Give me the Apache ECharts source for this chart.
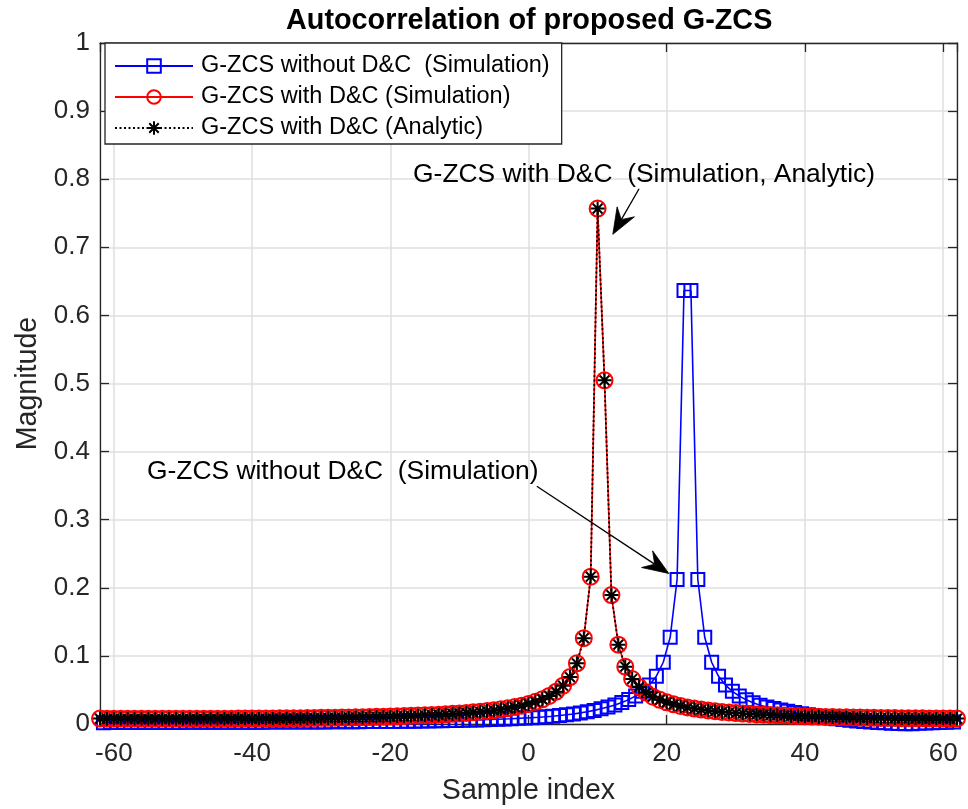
<!DOCTYPE html>
<html>
<head>
<meta charset="utf-8">
<script src="https://cdn.jsdelivr.net/npm/echarts@6/dist/echarts.min.js"></script>
<style>
  html, body { margin: 0; padding: 0; background: #ffffff; }
  #chart { width: 968px; height: 809px; }
</style>
</head>
<body>
<div id="chart"></div>
<script>
// Sample positions of the G-ZCS with D&C sequence (integer lags)
const sampleIndex = [
  -62, -61, -60, -59, -58, -57, -56, -55, -54, -53, -52, -51, -50, -49, -48, -47,
  -46, -45, -44, -43, -42, -41, -40, -39, -38, -37, -36, -35, -34, -33, -32, -31,
  -30, -29, -28, -27, -26, -25, -24, -23, -22, -21, -20, -19, -18, -17, -16, -15,
  -14, -13, -12, -11, -10, -9, -8, -7, -6, -5, -4, -3, -2, -1,
  0, 1, 2, 3, 4, 5, 6, 7, 8, 9, 10, 11, 12, 13, 14, 15,
  16, 17, 18, 19, 20, 21, 22, 23, 24, 25, 26, 27, 28, 29, 30, 31,
  32, 33, 34, 35, 36, 37, 38, 39, 40, 41, 42, 43, 44, 45, 46, 47,
  48, 49, 50, 51, 52, 53, 54, 55, 56, 57, 58, 59, 60, 61, 62
];

// Sample positions of the G-ZCS without D&C sequence (half-sample lags)
const halfSampleIndex = [
  -61.5, -60.5, -59.5, -58.5, -57.5, -56.5, -55.5, -54.5, -53.5, -52.5, -51.5, -50.5,
  -49.5, -48.5, -47.5, -46.5, -45.5, -44.5, -43.5, -42.5, -41.5, -40.5, -39.5, -38.5,
  -37.5, -36.5, -35.5, -34.5, -33.5, -32.5, -31.5, -30.5, -29.5, -28.5, -27.5, -26.5,
  -25.5, -24.5, -23.5, -22.5, -21.5, -20.5, -19.5, -18.5, -17.5, -16.5, -15.5, -14.5,
  -13.5, -12.5, -11.5, -10.5, -9.5, -8.5, -7.5, -6.5, -5.5, -4.5, -3.5, -2.5, -1.5, -0.5,
  0.5, 1.5, 2.5, 3.5, 4.5, 5.5, 6.5, 7.5, 8.5, 9.5, 10.5, 11.5, 12.5, 13.5, 14.5, 15.5,
  16.5, 17.5, 18.5, 19.5, 20.5, 21.5, 22.5, 23.5, 24.5, 25.5, 26.5, 27.5, 28.5, 29.5,
  30.5, 31.5, 32.5, 33.5, 34.5, 35.5, 36.5, 37.5, 38.5, 39.5, 40.5, 41.5, 42.5, 43.5,
  44.5, 45.5, 46.5, 47.5, 48.5, 49.5, 50.5, 51.5, 52.5, 53.5, 54.5, 55.5, 56.5, 57.5,
  58.5, 59.5, 60.5, 61.5
];

// Autocorrelation magnitude, G-ZCS without D&C (simulation)
const withoutDCSim = [
  0.0020, 0.0021, 0.0021, 0.0021, 0.0021, 0.0022, 0.0022, 0.0022, 0.0022, 0.0023, 0.0023, 0.0023,
  0.0024, 0.0024, 0.0024, 0.0025, 0.0025, 0.0025, 0.0026, 0.0026, 0.0026, 0.0027, 0.0027, 0.0027,
  0.0028, 0.0028, 0.0028, 0.0029, 0.0029, 0.0030, 0.0030, 0.0031, 0.0031, 0.0032, 0.0032, 0.0033,
  0.0033, 0.0034, 0.0035, 0.0035, 0.0036, 0.0037, 0.0038, 0.0039, 0.0040, 0.0041, 0.0043, 0.0044,
  0.0046, 0.0048, 0.0050, 0.0052, 0.0055, 0.0057, 0.0060, 0.0063, 0.0066, 0.0070, 0.0074, 0.0078, 0.0083, 0.0088,
  0.0093, 0.0099, 0.0106, 0.0114, 0.0124, 0.0135, 0.0148, 0.0163, 0.0180, 0.0200, 0.0223, 0.0249, 0.0279, 0.0315, 0.0358, 0.0412,
  0.0480, 0.0572, 0.0702, 0.0907, 0.1273, 0.2122, 0.6366, 0.6366, 0.2122, 0.1273, 0.0907, 0.0700, 0.0572, 0.0480,
  0.0410, 0.0355, 0.0312, 0.0276, 0.0250, 0.0228, 0.0207, 0.0188, 0.0170, 0.0152, 0.0135, 0.0119, 0.0104, 0.0090,
  0.0077, 0.0065, 0.0054, 0.0045, 0.0037, 0.0030, 0.0023, 0.0017, 0.0011, 0.0006, 0.0002, 0.0005, 0.0010, 0.0014,
  0.0018, 0.0022, 0.0025, 0.0028
];

// Autocorrelation magnitude, G-ZCS with D&C (simulation)
const withDCSim = [
  0.0079, 0.0078, 0.0078, 0.0077, 0.0077, 0.0077, 0.0076, 0.0076, 0.0076, 0.0076, 0.0076, 0.0076, 0.0076, 0.0076, 0.0076, 0.0077,
  0.0077, 0.0077, 0.0078, 0.0078, 0.0079, 0.0079, 0.0080, 0.0080, 0.0081, 0.0082, 0.0083, 0.0084, 0.0085, 0.0086, 0.0087, 0.0088,
  0.0090, 0.0091, 0.0093, 0.0094, 0.0096, 0.0098, 0.0100, 0.0102, 0.0105, 0.0107, 0.0110, 0.0113, 0.0116, 0.0120, 0.0124, 0.0128,
  0.0132, 0.0137, 0.0143, 0.0149, 0.0155, 0.0162, 0.0171, 0.0180, 0.0190, 0.0202, 0.0215, 0.0230, 0.0248, 0.0269,
  0.0295, 0.0325, 0.0363, 0.0412, 0.0475, 0.0562, 0.0689, 0.0891, 0.1261, 0.2163, 0.7568, 0.5046, 0.1893, 0.1165, 0.0842, 0.0660,
  0.0542, 0.0461, 0.0401, 0.0355, 0.0318, 0.0289, 0.0265, 0.0244, 0.0227, 0.0212, 0.0199, 0.0188, 0.0178, 0.0169, 0.0161, 0.0154,
  0.0147, 0.0141, 0.0136, 0.0131, 0.0127, 0.0123, 0.0119, 0.0116, 0.0112, 0.0109, 0.0107, 0.0104, 0.0102, 0.0100, 0.0098, 0.0096,
  0.0094, 0.0092, 0.0091, 0.0089, 0.0088, 0.0087, 0.0086, 0.0085, 0.0084, 0.0083, 0.0082, 0.0081, 0.0080, 0.0080, 0.0079
];

// Autocorrelation magnitude, G-ZCS with D&C (analytic) - coincides with the simulation
const withDCAnalytic = [
  0.0079, 0.0078, 0.0078, 0.0077, 0.0077, 0.0077, 0.0076, 0.0076, 0.0076, 0.0076, 0.0076, 0.0076, 0.0076, 0.0076, 0.0076, 0.0077,
  0.0077, 0.0077, 0.0078, 0.0078, 0.0079, 0.0079, 0.0080, 0.0080, 0.0081, 0.0082, 0.0083, 0.0084, 0.0085, 0.0086, 0.0087, 0.0088,
  0.0090, 0.0091, 0.0093, 0.0094, 0.0096, 0.0098, 0.0100, 0.0102, 0.0105, 0.0107, 0.0110, 0.0113, 0.0116, 0.0120, 0.0124, 0.0128,
  0.0132, 0.0137, 0.0143, 0.0149, 0.0155, 0.0162, 0.0171, 0.0180, 0.0190, 0.0202, 0.0215, 0.0230, 0.0248, 0.0269,
  0.0295, 0.0325, 0.0363, 0.0412, 0.0475, 0.0562, 0.0689, 0.0891, 0.1261, 0.2163, 0.7568, 0.5046, 0.1893, 0.1165, 0.0842, 0.0660,
  0.0542, 0.0461, 0.0401, 0.0355, 0.0318, 0.0289, 0.0265, 0.0244, 0.0227, 0.0212, 0.0199, 0.0188, 0.0178, 0.0169, 0.0161, 0.0154,
  0.0147, 0.0141, 0.0136, 0.0131, 0.0127, 0.0123, 0.0119, 0.0116, 0.0112, 0.0109, 0.0107, 0.0104, 0.0102, 0.0100, 0.0098, 0.0096,
  0.0094, 0.0092, 0.0091, 0.0089, 0.0088, 0.0087, 0.0086, 0.0085, 0.0084, 0.0083, 0.0082, 0.0081, 0.0080, 0.0080, 0.0079
];

const seriesNames = [
  'G-ZCS without D&C  (Simulation)',
  'G-ZCS with D&C (Simulation)',
  'G-ZCS with D&C (Analytic)'
];

const FONT = '"Liberation Sans", Arial, Helvetica, sans-serif';
const AXIS_COLOR = '#262626';
const GRID_COLOR = '#dfdfdf';
const ASTERISK = 'path://M50,0L50,100M0,50L100,50M15,15L85,85M15,85L85,15';

const pairs = (xs, ys) => xs.map((x, i) => [x, ys[i]]);

const chart = echarts.init(document.getElementById('chart'), null, { renderer: 'canvas' });

const gridBox = { left: 100, top: 43, width: 857, height: 681 };

chart.setOption({
  animation: false,
  backgroundColor: '#ffffff',
  title: {
    text: 'Autocorrelation of proposed G-ZCS',
    left: 286,
    top: 7,
    padding: 0,
    textStyle: { fontFamily: FONT, fontSize: 28.8, fontWeight: 'bold', color: '#000000' }
  },
  legend: {
    left: 105,
    top: 43,
    orient: 'vertical',
    selectedMode: false,
    backgroundColor: '#ffffff',
    borderColor: AXIS_COLOR,
    borderWidth: 1.3,
    borderRadius: 0,
    padding: [11, 12, 4, 9],
    itemGap: 7,
    itemWidth: 78,
    itemHeight: 17,
    textStyle: { fontFamily: FONT, fontSize: 23.5, color: '#000000', lineHeight: 24, padding: [0, 0, 0, 3] },
    data: seriesNames
  },
  grid: Object.assign({ outerBoundsMode: 'none', containLabel: false }, gridBox),
  xAxis: [
    {
      type: 'value', min: -62, max: 62, splitNumber: 6, position: 'bottom',
      name: 'Sample index', nameLocation: 'middle', nameGap: 53,
      nameTextStyle: { fontFamily: FONT, fontSize: 28.6, color: AXIS_COLOR },
      axisLine: { show: true, onZero: false, lineStyle: { color: AXIS_COLOR, width: 1.3 } },
      axisTick: { show: true, inside: true, length: 9, lineStyle: { color: AXIS_COLOR, width: 1.3 } },
      axisLabel: { showMinLabel: false, showMaxLabel: false, margin: 17, fontFamily: FONT, fontSize: 26, color: AXIS_COLOR },
      splitLine: { show: true, lineStyle: { color: GRID_COLOR, width: 1.5 } }
    },
    {
      type: 'value', min: -62, max: 62, splitNumber: 6, position: 'top',
      axisLine: { show: true, onZero: false, lineStyle: { color: AXIS_COLOR, width: 1.3 } },
      axisTick: { show: true, inside: true, length: 9, lineStyle: { color: AXIS_COLOR, width: 1.3 } },
      axisLabel: { show: false },
      splitLine: { show: false }
    }
  ],
  yAxis: [
    {
      type: 'value', min: 0, max: 1, interval: 0.1, position: 'left',
      name: 'Magnitude', nameLocation: 'middle', nameGap: 56,
      nameTextStyle: { fontFamily: FONT, fontSize: 28.6, color: AXIS_COLOR },
      axisLine: { show: true, onZero: false, lineStyle: { color: AXIS_COLOR, width: 1.3 } },
      axisTick: { show: true, inside: true, length: 9, lineStyle: { color: AXIS_COLOR, width: 1.3 } },
      axisLabel: { margin: 10, fontFamily: FONT, fontSize: 26, color: AXIS_COLOR },
      splitLine: { show: true, lineStyle: { color: GRID_COLOR, width: 1.5 } }
    },
    {
      type: 'value', min: 0, max: 1, interval: 0.1, position: 'right',
      axisLine: { show: true, onZero: false, lineStyle: { color: AXIS_COLOR, width: 1.3 } },
      axisTick: { show: true, inside: true, length: 9, lineStyle: { color: AXIS_COLOR, width: 1.3 } },
      axisLabel: { show: false },
      splitLine: { show: false }
    }
  ],
  series: [
    {
      name: seriesNames[0], type: 'line', xAxisIndex: 0, yAxisIndex: 0,
      data: pairs(halfSampleIndex, withoutDCSim),
      symbol: 'rect', symbolSize: 13,
      itemStyle: { color: 'rgba(0,0,0,0)', borderColor: '#0000ff', borderWidth: 2 },
      lineStyle: { color: '#0000ff', width: 1.6 },
      emphasis: { disabled: true }, z: 2
    },
    {
      name: seriesNames[1], type: 'line', xAxisIndex: 0, yAxisIndex: 0,
      data: pairs(sampleIndex, withDCSim),
      symbol: 'circle', symbolSize: 16,
      itemStyle: { color: 'rgba(0,0,0,0)', borderColor: '#ff0000', borderWidth: 2 },
      lineStyle: { color: '#ff0000', width: 1.7 },
      emphasis: { disabled: true }, z: 3
    },
    {
      name: seriesNames[2], type: 'line', xAxisIndex: 0, yAxisIndex: 0,
      data: pairs(sampleIndex, withDCAnalytic),
      symbol: ASTERISK, symbolSize: 14,
      itemStyle: { color: 'rgba(0,0,0,0)', borderColor: '#000000', borderWidth: 2 },
      lineStyle: { color: '#000000', width: 1.8, type: [2, 2.5] },
      emphasis: { disabled: true }, z: 4
    }
  ]
});

// Text arrows, anchored in data coordinates
const annotations = [
  {
    text: 'G-ZCS with D&C  (Simulation, Analytic)',
    textAt: [-16.7, 0.807],
    tail: [16.0, 0.786],
    tip: [12.2, 0.719]
  },
  {
    text: 'G-ZCS without D&C  (Simulation)',
    textAt: [-55.2, 0.371],
    tail: [1.2, 0.349],
    tip: [20.3, 0.221]
  }
];

function arrowElements(tail, tip) {
  const headLen = 26, headHalf = 10, notch = 17;
  const dx = tip[0] - tail[0], dy = tip[1] - tail[1];
  const len = Math.hypot(dx, dy);
  const ux = dx / len, uy = dy / len, px = -uy, py = ux;
  const base = [tip[0] - ux * headLen, tip[1] - uy * headLen];
  const notchPt = [tip[0] - ux * notch, tip[1] - uy * notch];
  return [
    {
      type: 'line', z: 100,
      shape: { x1: tail[0], y1: tail[1], x2: notchPt[0], y2: notchPt[1] },
      style: { stroke: '#000000', lineWidth: 1.3 }
    },
    {
      type: 'polygon', z: 100,
      shape: { points: [tip, [base[0] + px * headHalf, base[1] + py * headHalf], notchPt, [base[0] - px * headHalf, base[1] - py * headHalf]] },
      style: { fill: '#000000', stroke: '#000000', lineWidth: 0.8 }
    }
  ];
}

const graphics = [];
annotations.forEach(a => {
  const t = chart.convertToPixel({ gridIndex: 0 }, a.textAt);
  graphics.push({
    type: 'text', z: 100, x: t[0], y: t[1],
    style: { text: a.text, fontFamily: FONT, fontSize: 26.4, fill: '#000000', align: 'left', verticalAlign: 'middle' }
  });
  const tail = chart.convertToPixel({ gridIndex: 0 }, a.tail);
  const tip = chart.convertToPixel({ gridIndex: 0 }, a.tip);
  arrowElements(tail, tip).forEach(g => graphics.push(g));
});
chart.setOption({ graphic: graphics });
</script>
</body>
</html>
